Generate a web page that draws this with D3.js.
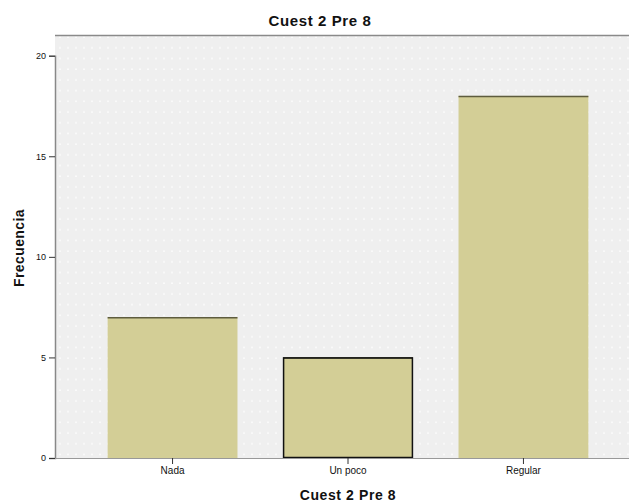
<!DOCTYPE html>
<html>
<head>
<meta charset="utf-8">
<script src="https://cdn.jsdelivr.net/npm/d3@7"></script>
<style>
  html, body { margin: 0; padding: 0; background: #ffffff; }
  svg { display: block; }
  text { font-family: "Liberation Sans", Arial, sans-serif; fill: #111; }
</style>
</head>
<body>
<svg id="chart" width="629" height="504"></svg>
<script>
// Frequency of answers for question 8
const categories = ["Nada", "Un poco", "Regular"];
const counts = [7, 5, 18];
const yTicks = [0, 5, 10, 15, 20];
const chartTitle = "Cuest 2 Pre 8";
const xTitle = "Cuest 2 Pre 8";
const yTitle = "Frecuencia";

const svg = d3.select("#chart");
const W = 629, H = 504;
const plot = { left: 55, top: 35, right: 641, bottom: 458 };

const x = d3.scaleBand()
  .domain(categories)
  .range([plot.left, plot.right])
  .paddingInner(0.26)
  .paddingOuter(0.3);

const y = d3.scaleLinear()
  .domain([0, 20])
  .range([plot.bottom, 55.7]);

// dotted fill of the plot area
const defs = svg.append("defs");
const pat = defs.append("pattern")
  .attr("id", "dots")
  .attr("width", 8).attr("height", 10.7)
  .attr("patternUnits", "userSpaceOnUse");
pat.append("rect").attr("width", 8).attr("height", 10.7).attr("fill", "#efefef");
pat.append("circle").attr("cx", 4).attr("cy", 5).attr("r", 0.9).attr("fill", "#ffffff").attr("opacity", 0.85);

svg.append("rect")
  .attr("x", plot.left).attr("y", plot.top)
  .attr("width", W - plot.left).attr("height", plot.bottom - plot.top)
  .attr("fill", "url(#dots)");

// frame of the plot area
svg.append("line")
  .attr("x1", plot.left).attr("x2", W)
  .attr("y1", plot.top + 0.5).attr("y2", plot.top + 0.5)
  .attr("stroke", "#8a8a8a").attr("stroke-width", 1.5);

// bars
const bars = svg.append("g");
bars.selectAll("rect.bar")
  .data(categories)
  .join("rect")
  .attr("class", "bar")
  .attr("x", d => x(d))
  .attr("y", (d, i) => y(counts[i]))
  .attr("width", x.bandwidth())
  .attr("height", (d, i) => plot.bottom - y(counts[i]))
  .attr("fill", "#d3ce96");

// darker top edges of bars
bars.selectAll("line.top")
  .data(categories)
  .join("line")
  .attr("class", "top")
  .attr("x1", d => x(d)).attr("x2", d => x(d) + x.bandwidth())
  .attr("y1", (d, i) => y(counts[i]) + 0.5).attr("y2", (d, i) => y(counts[i]) + 0.5)
  .attr("stroke", "#5e5c3e").attr("stroke-width", 1.5);

// highlighted outline on the middle bar
bars.append("rect")
  .attr("x", x("Un poco") + 0.5)
  .attr("y", y(counts[1]) + 0.5)
  .attr("width", x.bandwidth() - 1)
  .attr("height", plot.bottom - y(counts[1]) - 1)
  .attr("fill", "none")
  .attr("stroke", "#111").attr("stroke-width", 1.5);

// y axis
const yAxis = svg.append("g")
  .attr("transform", `translate(${plot.left},0)`)
  .call(d3.axisLeft(y).tickValues(yTicks).tickSize(6).tickPadding(3).tickFormat(d3.format("d")));
yAxis.select(".domain").attr("stroke", "#888").attr("stroke-width", 1.5);
yAxis.selectAll(".tick line").attr("stroke", "#333");
yAxis.selectAll(".tick text").attr("font-size", 9).attr("fill", "#444");

// x axis
const xAxis = svg.append("g")
  .attr("transform", `translate(0,${plot.bottom})`)
  .call(d3.axisBottom(x).tickSize(6).tickPadding(3));
xAxis.select(".domain").attr("d", `M${plot.left},0.5H${W}`).attr("stroke", "#999").attr("stroke-width", 1);
xAxis.selectAll(".tick line").attr("stroke", "#333");
xAxis.selectAll(".tick text").attr("font-size", 10).attr("fill", "#333");

// titles
svg.append("text")
  .attr("x", 320).attr("y", 26)
  .attr("text-anchor", "middle")
  .attr("font-size", 15).attr("font-weight", "bold").attr("fill", "#222")
  .attr("letter-spacing", 0.6)
  .text(chartTitle);

svg.append("text")
  .attr("x", 348).attr("y", 500)
  .attr("text-anchor", "middle")
  .attr("font-size", 14).attr("font-weight", "bold").attr("fill", "#222")
  .attr("letter-spacing", 0.6)
  .text(xTitle);

svg.append("text")
  .attr("transform", "translate(24,248) rotate(-90)")
  .attr("text-anchor", "middle")
  .attr("font-size", 14).attr("font-weight", "bold").attr("fill", "#222")
  .attr("letter-spacing", 0.4)
  .text(yTitle);
</script>
</body>
</html>
